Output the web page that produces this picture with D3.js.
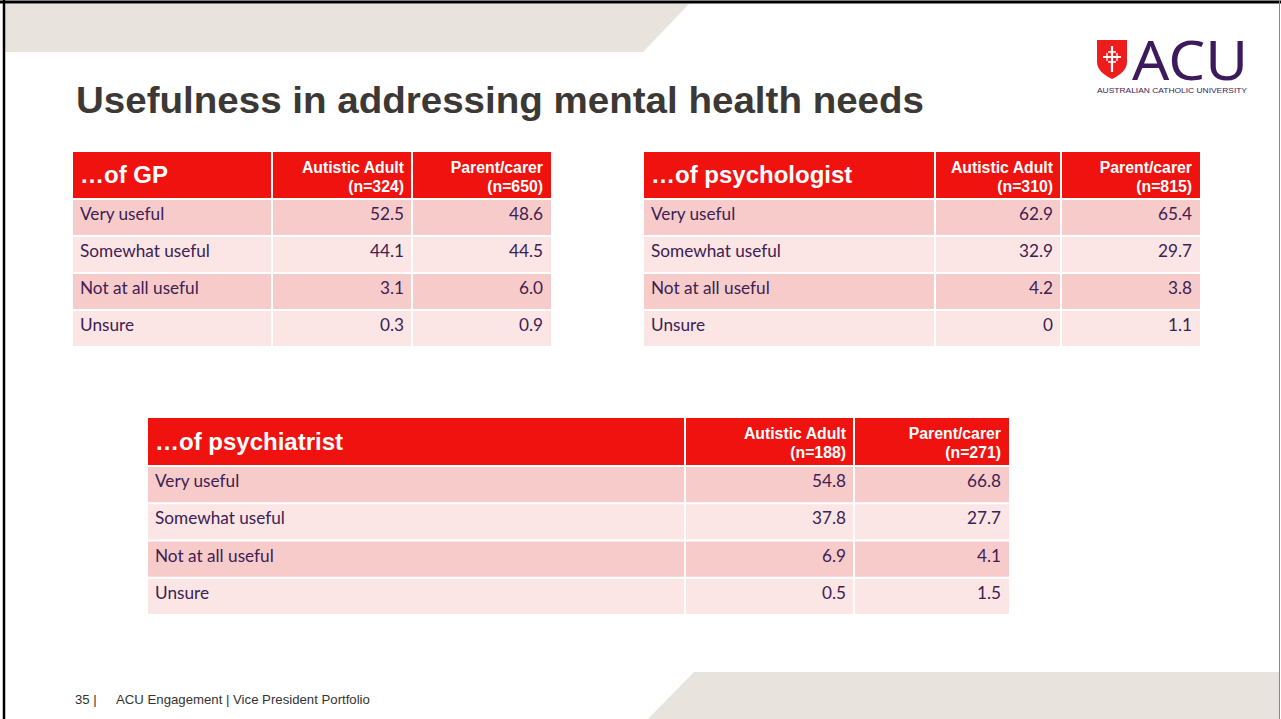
<!DOCTYPE html>
<html>
<head>
<meta charset="utf-8">
<script src="https://cdn.jsdelivr.net/npm/d3@7"></script>
<style>
  html, body { margin: 0; padding: 0; background: #fff; }
  svg { display: block; }
</style>
</head>
<body>
<div id="chart"></div>
<script>
// Data
const categories = ["Very useful", "Somewhat useful", "Not at all useful", "Unsure"];
const groups = ["Autistic Adult", "Parent/carer"];

const gpN = [324, 650];
const gpValues = [[52.5, 48.6], [44.1, 44.5], [3.1, 6.0], [0.3, 0.9]];

const psychologistN = [310, 815];
const psychologistValues = [[62.9, 65.4], [32.9, 29.7], [4.2, 3.8], [0, 1.1]];

const psychiatristN = [188, 271];
const psychiatristValues = [[54.8, 66.8], [37.8, 27.7], [6.9, 4.1], [0.5, 1.5]];

const W = 1281, H = 719;
const svg = d3.select("#chart").append("svg")
  .attr("width", W)
  .attr("height", H);

// Background bands
svg.append("rect").attr("width", W).attr("height", H).attr("fill", "#fff");
svg.append("path")
  .attr("d", "M5,4 L689,4 L643,52 L5,52 Z")
  .attr("fill", "#e8e3dc");
svg.append("path")
  .attr("d", "M694,672 L1279,672 L1279,719 L648,719 Z")
  .attr("fill", "#e8e3dc");

// Slide frame
svg.append("line").attr("x1", 4).attr("x2", 4).attr("y1", 0).attr("y2", H)
  .attr("stroke", "#000").attr("stroke-width", 2.5);
svg.append("line").attr("x1", 0).attr("x2", W).attr("y1", 2).attr("y2", 2)
  .attr("stroke", "#000").attr("stroke-width", 3);
svg.append("line").attr("x1", 1279.5).attr("x2", 1279.5).attr("y1", 0).attr("y2", H)
  .attr("stroke", "#888").attr("stroke-width", 1);

// Title
svg.append("text")
  .attr("x", 76)
  .attr("y", 113)
  .attr("font-family", "Liberation Sans, Arial, sans-serif")
  .attr("font-weight", "bold")
  .attr("font-size", 36)
  .attr("fill", "#3b3835")
  .attr("textLength", 848)
  .attr("lengthAdjust", "spacingAndGlyphs")
  .text("Usefulness in addressing mental health needs");

// Logo
const logo = svg.append("g");
logo.append("path")
  .attr("d", "M1097,40 L1127,40 L1127,62 C1127,70 1120,75 1112,79 C1104,75 1097,70 1097,62 Z")
  .attr("fill", "#ee1c1c");
logo.append("path")
  .attr("d", "M1112,46 L1112,72 M1103,57 L1121,57")
  .attr("stroke", "#fff").attr("stroke-width", 2.2).attr("fill", "none");
logo.append("path")
  .attr("d", "M1108,52 L1116,52 M1108,62 L1116,62 M1107,53 L1107,61 M1117,53 L1117,61")
  .attr("stroke", "#fff").attr("stroke-width", 1.3).attr("fill", "none");
logo.append("text")
  .attr("x", 1132).attr("y", 80)
  .attr("font-family", "Noto Sans, sans-serif")
  .attr("font-size", 54)
  .attr("fill", "#3d1a5b")
  .attr("textLength", 116)
  .attr("lengthAdjust", "spacingAndGlyphs")
  .text("ACU");
logo.append("text")
  .attr("x", 1097).attr("y", 93)
  .attr("font-family", "Liberation Sans, Arial, sans-serif")
  .attr("font-size", 7.2)
  .attr("fill", "#3d1a5b")
  .attr("textLength", 150)
  .attr("lengthAdjust", "spacingAndGlyphs")
  .text("AUSTRALIAN CATHOLIC UNIVERSITY");

// Footer
const footer = svg.append("text")
  .attr("y", 704)
  .attr("font-family", "Liberation Sans, Arial, sans-serif")
  .attr("font-size", 13.2)
  .attr("fill", "#333");
footer.append("tspan").attr("x", 75).text("35 |");
footer.append("tspan").attr("x", 116).text("ACU Engagement | Vice President Portfolio");

// Table renderer
function drawTable(opts) {
  const { title, n, values, x0, y0, colWidths, headH, bodyH } = opts;
  const g = svg.append("g");

  const colX = [x0, x0 + colWidths[0], x0 + colWidths[0] + colWidths[1]];
  const gap = 2;

  const y = d3.scaleBand()
    .domain(categories)
    .range([y0 + headH + 2, y0 + headH + 2 + bodyH])
    .paddingInner(0.055);

  // header cells
  colWidths.forEach((w, i) => {
    g.append("rect")
      .attr("x", colX[i] + (i ? gap / 2 : 0))
      .attr("y", y0)
      .attr("width", w - (i ? gap / 2 : 0) - (i < 2 ? gap / 2 : 0))
      .attr("height", headH)
      .attr("fill", "#f0120f");
  });

  g.append("text")
    .attr("x", x0 + 7)
    .attr("y", y0 + headH / 2 + 8)
    .attr("font-family", "Liberation Sans, Arial, sans-serif")
    .attr("font-weight", "bold")
    .attr("font-size", 24)
    .attr("fill", "#fff")
    .text(title);

  groups.forEach((grp, j) => {
    const right = colX[j + 1] + colWidths[j + 1] - 8;
    const t = g.append("text")
      .attr("x", right)
      .attr("text-anchor", "end")
      .attr("font-family", "Liberation Sans, Arial, sans-serif")
      .attr("font-weight", "bold")
      .attr("font-size", 15.8)
      .attr("fill", "#fff");
    t.append("tspan").attr("x", right).attr("y", y0 + 21).text(grp);
    t.append("tspan").attr("x", right).attr("y", y0 + 40).text(`(n=${n[j]})`);
  });

  // body rows
  const rows = g.selectAll("g.row")
    .data(categories.map((c, i) => ({ cat: c, vals: values[i], i })))
    .join("g")
    .attr("class", "row");

  colWidths.forEach((w, ci) => {
    rows.append("rect")
      .attr("x", colX[ci] + (ci ? gap / 2 : 0))
      .attr("y", d => y(d.cat))
      .attr("width", w - (ci ? gap / 2 : 0) - (ci < 2 ? gap / 2 : 0))
      .attr("height", y.bandwidth())
      .attr("fill", d => d.i % 2 === 0 ? "#f8cbcb" : "#fbe5e5");
  });

  rows.append("text")
    .attr("x", x0 + 7)
    .attr("y", d => y(d.cat) + y.bandwidth() / 2 + 2.5)
    .attr("font-family", "Lato, 'Open Sans', sans-serif")
    .attr("font-size", 17.2)
    .attr("fill", "#3c2152")
    .text(d => d.cat);

  [0, 1].forEach(j => {
    rows.append("text")
      .attr("x", colX[j + 1] + colWidths[j + 1] - 8)
      .attr("y", d => y(d.cat) + y.bandwidth() / 2 + 2.5)
      .attr("text-anchor", "end")
      .attr("font-family", "Lato, 'Open Sans', sans-serif")
      .attr("font-size", 17.2)
      .attr("fill", "#3c2152")
      .text(d => d.vals[j] === 0 ? "0" : d3.format(".1f")(d.vals[j]));
  });
}

drawTable({
  title: "\u2026of GP", n: gpN, values: gpValues,
  x0: 73, y0: 152, colWidths: [199, 140, 139], headH: 46, bodyH: 146
});
drawTable({
  title: "\u2026of psychologist", n: psychologistN, values: psychologistValues,
  x0: 644, y0: 152, colWidths: [291, 126, 139], headH: 46, bodyH: 146
});
drawTable({
  title: "\u2026of psychiatrist", n: psychiatristN, values: psychiatristValues,
  x0: 148, y0: 418, colWidths: [537, 169, 155], headH: 47, bodyH: 147
});
</script>
</body>
</html>
